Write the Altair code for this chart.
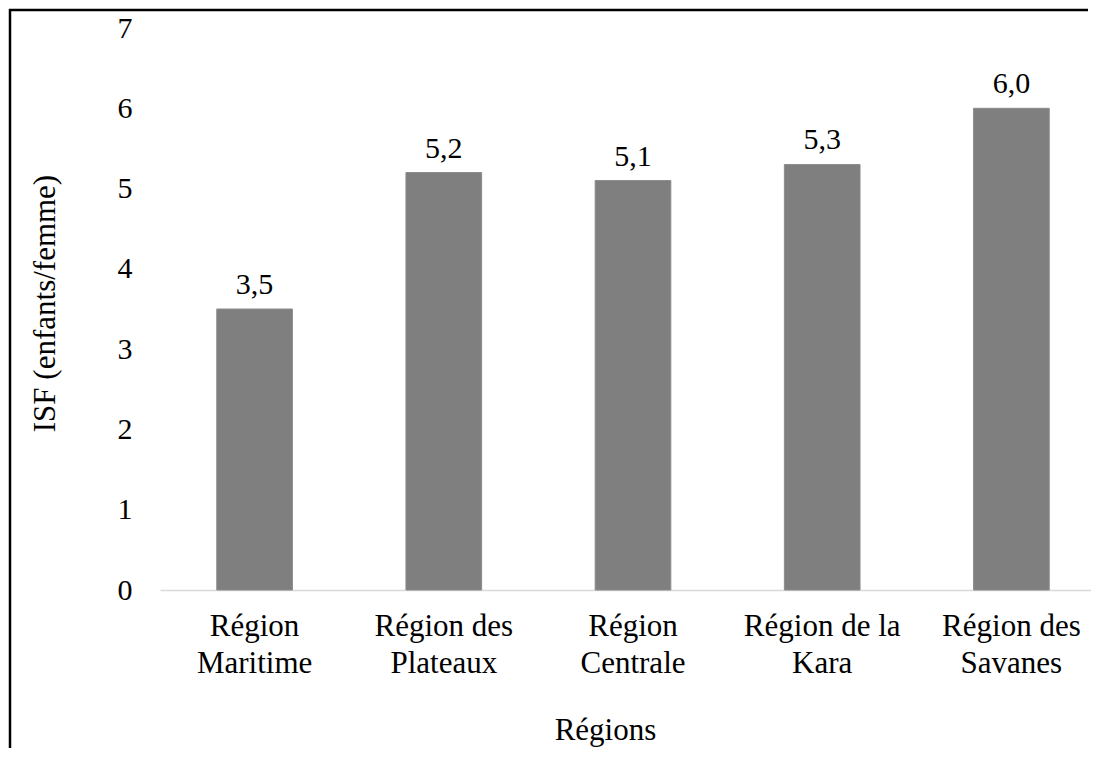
import altair as alt
import pandas as pd

regions = ["Région\nMaritime", "Région des\nPlateaux", "Région\nCentrale", "Région de la\nKara", "Région des\nSavanes"]
isf = [3.5, 5.2, 5.1, 5.3, 6.0]
y_ticks = [0, 1, 2, 3, 4, 5, 6, 7]

df = pd.DataFrame({"region": regions, "isf": isf})

W = 946
H = 562
FONT = "Liberation Serif"
FS = 31

x_enc = alt.X(
    "region:N",
    sort=regions,
    scale=alt.Scale(paddingInner=0.6, paddingOuter=0.3),
    axis=alt.Axis(
        title="Régions",
        labelExpr="split(datum.label, '\\n')",
        labelAngle=0,
        labelFont=FONT,
        labelFontSize=FS,
        labelColor="#000000",
        labelPadding=21,
        labelLineHeight=37,
        ticks=False,
        domainColor="#d9d9d9",
        domainWidth=1.5,
        titleFont=FONT,
        titleFontSize=FS,
        titleFontWeight="normal",
        titleColor="#000000",
        titleX=445,
        titleY=140,
        titleBaseline="middle",
        titleAlign="center",
    ),
)

y_enc = alt.Y(
    "isf:Q",
    scale=alt.Scale(domain=[0, 7], nice=False),
    axis=alt.Axis(
        title="ISF (enfants/femme)",
        values=y_ticks,
        format="d",
        grid=False,
        domain=False,
        ticks=False,
        labelFont=FONT,
        labelFontSize=30,
        labelColor="#000000",
        labelPadding=28,
        titleFont=FONT,
        titleFontSize=FS,
        titleFontWeight="normal",
        titleColor="#000000",
        titleX=-115,
        titleY=275,
        titleBaseline="middle",
        titleAlign="center",
        titleAngle=-90,
    ),
)

base = alt.Chart(df)

bars = base.mark_bar(color="#7f7f7f", stroke="#8c8c8c", strokeWidth=1).encode(x=x_enc, y=y_enc)

labels = base.transform_calculate(
    lab="replace(format(datum.isf, '.1f'), '.', ',')"
).mark_text(
    font=FONT, fontSize=30, color="#000000", baseline="alphabetic", dy=-15
).encode(x=alt.X("region:N", sort=regions), y="isf:Q", text="lab:N")

frame = pd.DataFrame({"a": [0]})
top_line = alt.Chart(frame).mark_rule(color="#000000", strokeWidth=2.5, clip=False).encode(
    x=alt.value(-151), x2=alt.value(928), y=alt.value(-18)
)
left_line = alt.Chart(frame).mark_rule(color="#000000", strokeWidth=2.5, clip=False).encode(
    x=alt.value(-150), y=alt.value(-19), y2=alt.value(H + 160)
)

chart = alt.layer(top_line, left_line, bars, labels).properties(
    width=W,
    height=H,
    autosize=alt.AutoSizeParams(type="none"),
    padding={"left": 152, "top": 20, "right": -15, "bottom": 158},
    background="#ffffff",
).configure_view(stroke=None)

chart.save("out.html", embed_options={"renderer": "svg", "actions": False})
